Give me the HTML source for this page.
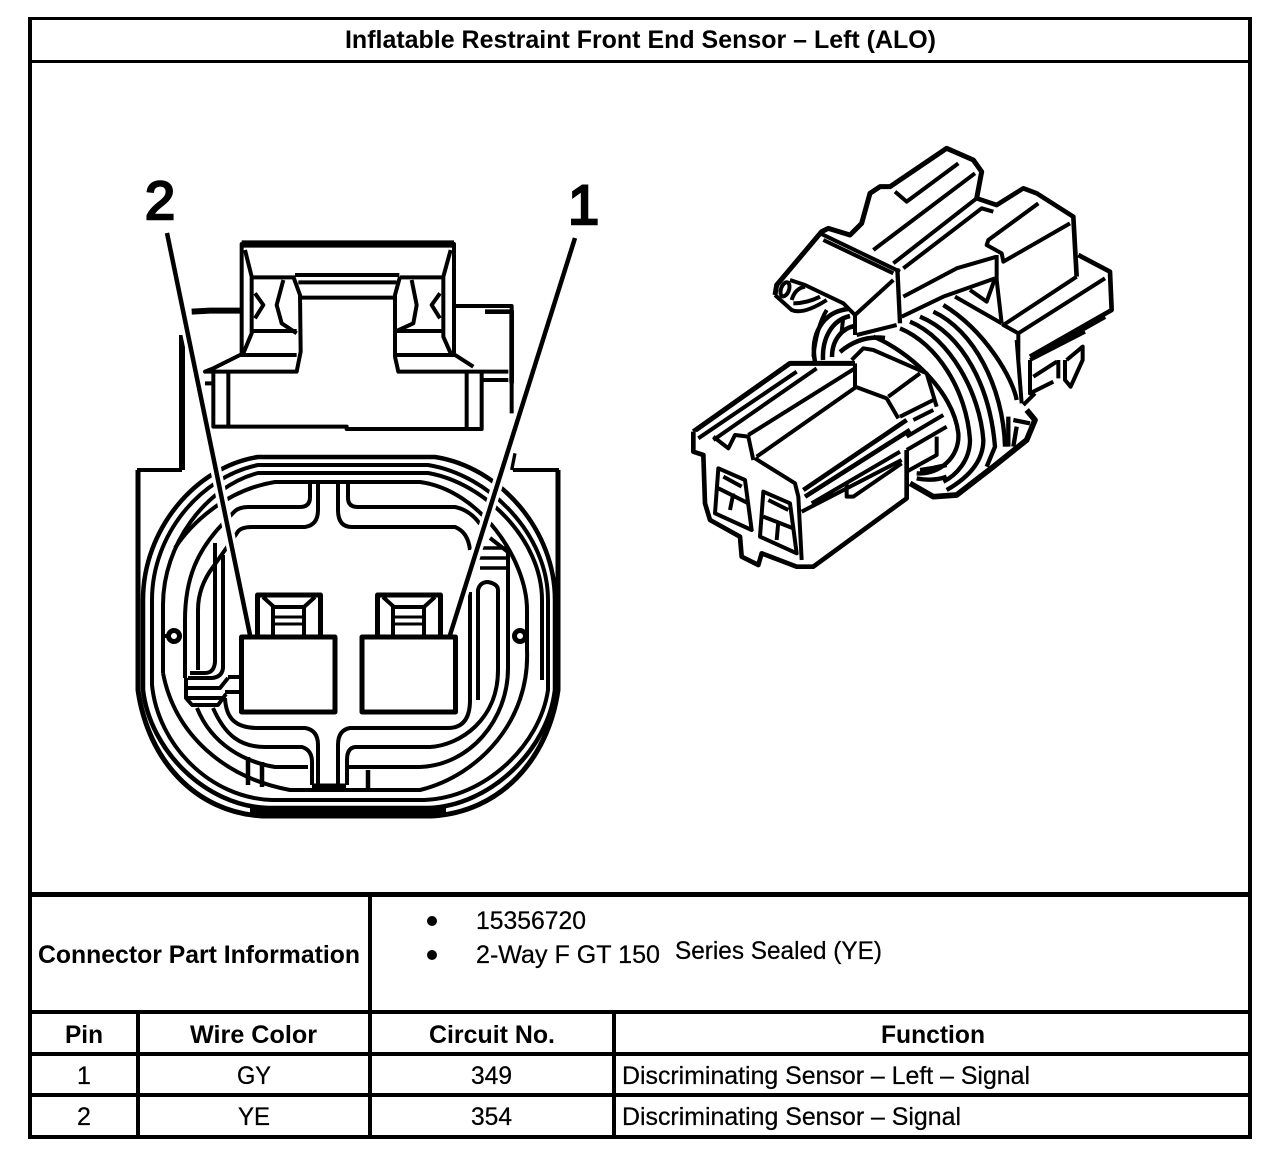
<!DOCTYPE html>
<html><head><meta charset="utf-8"><title>Inflatable Restraint Front End Sensor</title>
<style>html,body{margin:0;padding:0;background:#fff}svg{display:block}
text{font-family:"Liberation Sans",sans-serif;fill:#000}
.b{font-weight:bold;font-size:25px}.r{font-size:25px;stroke:#000;stroke-width:.25}
.l{fill:none;stroke:#000;stroke-linecap:butt;stroke-linejoin:round}
</style></head><body>
<svg width="1280" height="1156" viewBox="0 0 1280 1156" xmlns="http://www.w3.org/2000/svg">
<rect width="1280" height="1156" fill="#fff"/>

<!-- table frame -->
<g fill="#000">
<rect x="28" y="17" width="1224" height="3"/>
<rect x="28" y="60" width="1224" height="3"/>
<rect x="28" y="892" width="1224" height="5"/>
<rect x="28" y="1010" width="1224" height="4"/>
<rect x="28" y="1052" width="1224" height="4"/>
<rect x="28" y="1093" width="1224" height="4"/>
<rect x="28" y="1135" width="1224" height="4"/>
<rect x="28" y="17" width="4" height="1122"/>
<rect x="1248" y="17" width="4" height="1122"/>
<rect x="368" y="892" width="4" height="247"/>
<rect x="136" y="1010" width="4" height="129"/>
<rect x="612" y="1010" width="4" height="129"/>
<circle cx="432" cy="921" r="5"/><circle cx="432" cy="955" r="5"/>
</g>

<!-- table text -->
<text x="345" y="48" class="b" textLength="591" lengthAdjust="spacingAndGlyphs">Inflatable Restraint Front End Sensor – Left (ALO)</text>
<text x="38" y="963" class="b" textLength="322" lengthAdjust="spacingAndGlyphs">Connector Part Information</text>
<text x="476" y="929" class="r" textLength="110" lengthAdjust="spacingAndGlyphs">15356720</text>
<text x="476" y="963" class="r" textLength="184" lengthAdjust="spacingAndGlyphs">2-Way F GT 150</text>
<text x="675" y="959" class="r" textLength="207" lengthAdjust="spacingAndGlyphs">Series Sealed (YE)</text>
<text x="65" y="1043" class="b" textLength="38" lengthAdjust="spacingAndGlyphs">Pin</text>
<text x="190" y="1043" class="b" textLength="127" lengthAdjust="spacingAndGlyphs">Wire Color</text>
<text x="429" y="1043" class="b" textLength="126" lengthAdjust="spacingAndGlyphs">Circuit No.</text>
<text x="881" y="1043" class="b" textLength="104" lengthAdjust="spacingAndGlyphs">Function</text>
<text x="84" y="1084" class="r" text-anchor="middle">1</text>
<text x="237" y="1084" class="r" textLength="34" lengthAdjust="spacingAndGlyphs">GY</text>
<text x="471" y="1084" class="r" textLength="41" lengthAdjust="spacingAndGlyphs">349</text>
<text x="622" y="1084" class="r" textLength="408" lengthAdjust="spacingAndGlyphs">Discriminating Sensor – Left – Signal</text>
<text x="84" y="1125" class="r" text-anchor="middle">2</text>
<text x="238" y="1125" class="r" textLength="32" lengthAdjust="spacingAndGlyphs">YE</text>
<text x="471" y="1125" class="r" textLength="41" lengthAdjust="spacingAndGlyphs">354</text>
<text x="622" y="1125" class="r" textLength="339" lengthAdjust="spacingAndGlyphs">Discriminating Sensor – Signal</text>

<!-- LEFT CONNECTOR rings -->
<g class="l" stroke-width="4">
<path d="M138,470V690C148,760 195,812 262,816H432C500,812 548,760 558,690V470" stroke-width="5"/>
<path d="M182,335V470" stroke-width="6"/>
<path d="M137,470H182M513,470H559"/>
<!-- ring 1 -->
<path d="M143,690V600C143,530 195,467 258,457H435C500,467 555,530 555,600V690C548,750 490,806 428,808H268C205,806 150,750 143,690Z" stroke-width="4.500"/>
<!-- ring 2 -->
<path d="M152,685V600C152,535 200,477 258,465H428C490,475 548,535 548,600V690C540,745 485,798 424,800H272C210,798 158,745 152,685Z"/>
<!-- ring 3 -->
<path d="M163,673V605C163,545 205,487 258,473H428C485,483 542,540 542,600V680"/>
<path d="M163,673C175,735 225,778 290,790H420C480,775 530,720 527,650V610C527,560 480,490 420,482H275C225,490 190,525 175,548"/>
<path d="M250,812H446" stroke-width="10"/>
<!-- top cross -->
<path d="M217,530C200,550 185,575 185,620V678"/>
<path d="M217,530L233,513Q238,507 248,507H300Q310,507 310,497V484"/>
<path d="M213,567Q198,587 198,610V670"/>
<path d="M213,567L237,533Q240,527 252,527H305Q318,525 318,510V482"/>
<path d="M338,482V510Q338,527 352,527H455Q468,532 470,550"/>
<path d="M348,482V498Q348,507 358,507H455Q470,510 480,524"/>
<!-- bottom cross -->
<path d="M225,698C226,718 235,728 258,728H305Q318,730 318,745V785"/>
<path d="M338,785V745Q338,730 350,728H448Q470,728 470,700V592"/>
<path d="M213,708C225,735 240,747 265,747H302Q312,750 312,762V785"/>
<path d="M347,785V760Q347,748 355,747H430C460,745 498,720 498,670V590Q498,584 488,582Q480,582 478,590V700"/>
<path d="M197,708C212,745 245,762 275,767H308"/>
<path d="M347,767H420C470,765 508,720 508,668V552L490,538"/>
<path d="M248,757V785M262,762V787M368,770V790" stroke-width="4.500"/>
<path d="M312,786H346" stroke-width="5"/>
<path d="M476,548H509M478,558H509M480,568H509" stroke-width="3.500"/>
<!-- left inner -->
<path d="M215,543V662Q214,673 205,673H190"/>
<path d="M223,555V668Q222,677 212,678H188"/>
<path d="M228,677H241M225,692H241"/>
<path d="M186,678V698L192,705H218L226,694"/>
<path d="M188,688H220L228,678M188,698H222"/>
<!-- pegs -->
<circle cx="174" cy="636" r="5.500" fill="#fff" stroke-width="5"/>
<circle cx="520" cy="636" r="5.500" fill="#fff" stroke-width="5"/>
<path d="M168,636H165M526,636H529" stroke-width="4"/>
</g>

<!-- leaders with halo -->
<path d="M167,233L250,635" stroke="#fff" stroke-width="11" fill="none"/>
<path d="M575,238L450,635" stroke="#fff" stroke-width="11" fill="none"/>
<path d="M167,233L250,635" stroke="#000" stroke-width="4.500" fill="none"/>
<path d="M575,238L450,635" stroke="#000" stroke-width="4.500" fill="none"/>

<!-- pin boxes -->
<g class="l" stroke-width="5">
<rect x="241.500" y="637" width="93.500" height="75" fill="#fff"/>
<rect x="362" y="637" width="93.500" height="75" fill="#fff"/>
<path d="M257.500,637V595H320.500V637"/>
<path d="M273,637V607H304V637" stroke-width="4"/>
<path d="M263,597L274,607M315,597L304,607" stroke-width="4"/>
<path d="M273,617H304M273,624H304" stroke-width="3"/>
<path d="M377.500,637V595H440.500V637"/>
<path d="M393,637V607H424V637" stroke-width="4"/>
<path d="M383,597L394,607M435,597L424,607" stroke-width="4"/>
<path d="M393,617H424M393,624H424" stroke-width="3"/>
</g>

<!-- top block: zoom1 coordinates -->
<g transform="translate(130,170) scale(.33333)" class="l" stroke-width="12">
<path d="M335,550V222H972V405" /><path d="M335,222H972" stroke-width="22"/>
<path d="M972,222V550"/>
<path d="M345,240L365,320V490L340,550M962,240L940,320V500L962,550"/>
<path d="M365,322H495M810,322H940M375,370L400,405L375,445M930,370L905,405L930,445"/>
<path d="M495,315H808M505,337H800M515,383H790"/>
<path d="M490,320L510,375L512,545L500,605H225L250,595L330,555H500M810,320L795,375L795,560L805,605H1135M800,555H975L1030,590"/>
<path d="M460,330L440,405L455,460L500,490M365,483H500M845,330L860,405L850,460L800,483H935"/>
<path d="M250,610V770H650V777H1055V610M295,610V770M1010,610V777"/>
<path d="M225,640H250M1060,630H1135"/>
<path d="M185,425L240,422H335" stroke-width="18"/>
<path d="M975,408H1145V730"/><path d="M1065,425H1145M1145,420V640" stroke-width="14"/>
<path d="M1155,850L1145,900" stroke-width="10"/>
</g>

<!-- digit labels -->
<text x="145" y="219" font-size="54" stroke="#000" stroke-width="2.500">2</text>
<text x="568" y="224" font-size="56" stroke="#000" stroke-width="2.500">1</text>

<!-- RIGHT CONNECTOR rings: zoom coords from (800,300) -->
<g transform="translate(800,300) scale(.33333)" class="l" stroke-width="13">
<path d="M220,110C320,150 460,270 475,400C480,470 420,525 350,520"/>
<path d="M300,85C410,130 500,270 510,420C510,480 470,525 430,545"/>
<path d="M330,65C450,115 540,280 550,420C550,480 510,530 440,570"/>
<path d="M360,50C490,105 570,260 585,440L560,500"/>
<path d="M400,35C520,90 610,260 615,440"/>
<path d="M430,15C560,95 640,240 650,300"/>
<path d="M440,495Q400,505 360,510M350,535Q400,545 440,530"/>
<path d="M640,360L690,370M650,380L640,440M625,350V440"/>
</g>
<g class="l" stroke-width="4.500">
<path d="M815,362C810,335 822,312 848,309"/>
<path d="M823,360C822,338 832,320 850,316"/>
<path d="M832,357C832,340 842,328 855,326"/>
<path d="M840,352Q860,335 885,338"/>
</g>

<!-- right connector top: zoom3 coords -->
<g transform="translate(680,140) scale(.33333)" class="l" stroke-width="12">
<path d="M285,465L290,435L425,275L445,265L510,285L545,250L570,160L600,140L630,140L800,25L880,60L905,95L890,175" stroke-width="15"/>
<path d="M645,155L680,185L835,70"/>
<path d="M580,330L885,100M640,370L890,175"/>
<path d="M420,280L660,395M430,300L640,400"/>
<path d="M652,385L660,550" stroke-width="13"/>
<path d="M640,420L525,525V585"/>
<path d="M670,385L905,205L940,215"/>
<path d="M890,175L950,195L1030,145L1070,160L1180,230L1190,410" stroke-width="14"/>
<path d="M1075,190L925,300L920,315L965,340L970,365L1170,250"/>
<path d="M670,470L830,385L950,350M665,530L790,470L945,415"/>
<path d="M950,345V420L965,550"/>
<path d="M1190,410L970,555L1015,580V660"/>
<path d="M1195,345L1290,395L1295,510L1050,650" stroke-width="14"/>
<path d="M1275,415L1015,580"/>
<path d="M1275,530L1080,640" stroke-width="14"/>
<path d="M870,450L920,485L945,415"/>
<path d="M825,470L965,550"/>
<path d="M285,465L335,510Q370,525 440,480"/>
<path d="M330,420L375,435L490,490L525,525"/>
<path d="M335,480Q345,445 375,440M340,490Q380,490 420,470"/>
<ellipse cx="315" cy="448" rx="12" ry="22" transform="rotate(20 315 448)"/>
<path d="M530,585L650,555"/>
<path d="M490,530L485,575M440,510Q410,560 400,650"/>
</g>

<!-- right connector bottom: zoom4 coords -->
<g transform="translate(680,340) scale(.33333)" class="l" stroke-width="12">
<path d="M515,60L550,25L580,30L740,100L770,200" fill="#fff"/>
<path d="M40,275L330,70H420L525,70" stroke-width="15"/>
<path d="M40,275V335L70,345L75,490L90,540L180,590L185,650L235,675L245,640L350,680H400L680,475V330" stroke-width="14" fill="#fff"/>
<path d="M55,295L350,95M100,300L410,85"/>
<path d="M100,290L145,325L165,285L205,290L220,360"/>
<path d="M205,285L525,85M230,350L530,140"/>
<path d="M525,70V140L620,175L655,235"/>
<path d="M225,355L345,430L355,470L365,660"/>
<path d="M370,450L680,240M375,470L690,270" stroke-width="14"/>
<path d="M365,515L665,360M395,490L660,335"/>
<path d="M500,425V470H520L665,370"/>
<path d="M680,330L800,260M680,290L790,225M700,240L760,210"/>
<path d="M625,170L720,100"/>
<path d="M660,230L760,180"/>
<path d="M770,290V345L680,395"/>
<path d="M115,385L195,420L215,570L105,520Z"/>
<path d="M130,410L185,440M115,445L205,490M160,460L150,510"/>
<path d="M250,455L330,490L350,640L240,590Z"/>
<path d="M265,480L325,510M250,530L340,565M295,545L290,600"/>
<path d="M1050,60V160L1120,125M1060,110L1130,65M1135,60V115M1155,60V120L1172,140L1208,60V20L1160,60"/>
<path d="M1050,60L1215,-25"/>
<path d="M1010,0L1025,190"/>
<path d="M1030,195L1065,160"/>
<path d="M1040,210L1065,240L1040,300L940,380L830,465L760,470L690,430" stroke-width="17"/>
</g>
</svg>
</body></html>
